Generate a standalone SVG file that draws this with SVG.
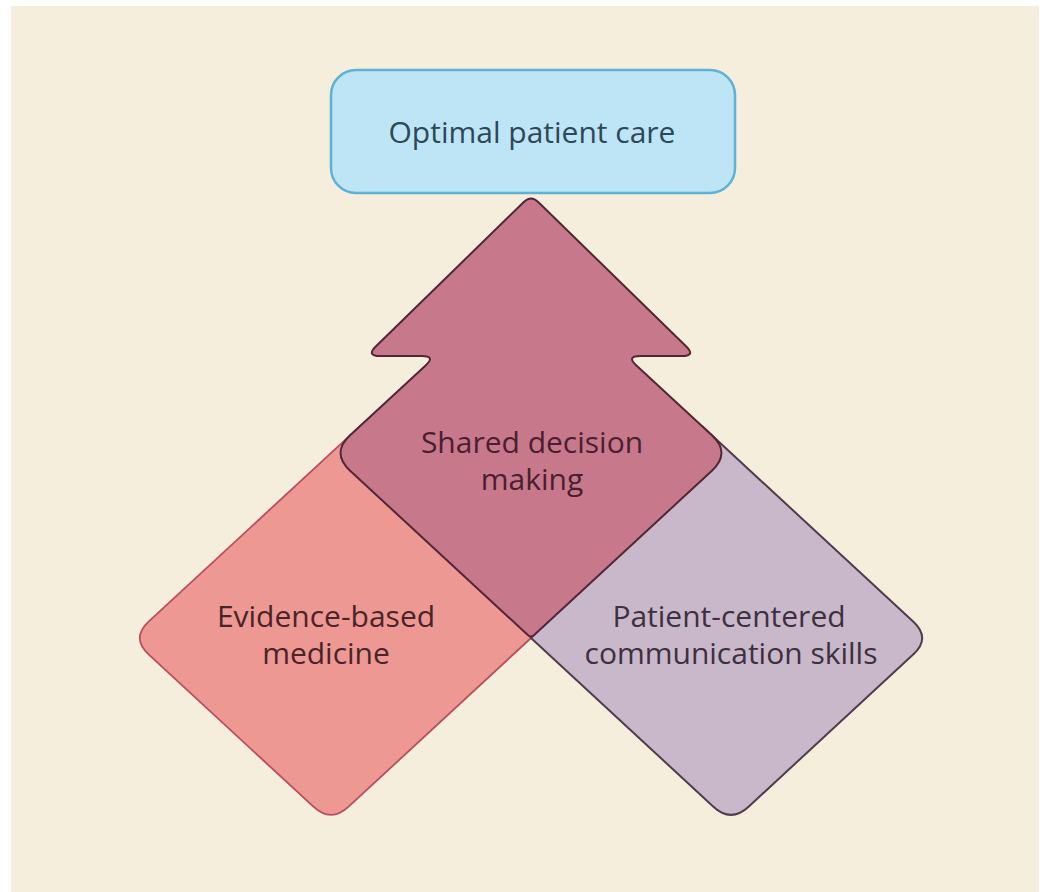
<svg xmlns="http://www.w3.org/2000/svg" width="1046" height="892" viewBox="0 0 1046 892">
  <style>
    .lbl { font-family: "Open Sans", "Noto Sans", "DejaVu Sans", sans-serif; font-size: 30px; text-anchor: middle; }
  </style>
  <rect x="0" y="0" width="1046" height="892" fill="#ffffff"/>
  <rect x="11" y="6" width="1028" height="886" fill="#f5eedc"/>

  <!-- left tile: its hidden top and right corners sit under the arrow -->
  <g id="evidence-based-medicine">
    <path d="M360.4,425.8 L531,638 L348.6,806.7 Q331,823 313.4,806.7 L148.6,654.3 Q131,638 148.6,621.7 Z" fill="#ee9894" stroke="#b94d5c" stroke-width="1.8" stroke-linejoin="round"/>
    <text class="lbl" x="326" y="627" fill="#4a2429">Evidence-based</text>
    <text class="lbl" x="326" y="664" fill="#4a2429">medicine</text>
  </g>

  <!-- right tile -->
  <g id="patient-centered-communication">
    <path d="M531,638 L701.6,425.8 L913.4,621.7 Q931,638 913.4,654.3 L748.6,806.7 Q731,823 713.4,806.7 Z" fill="#c8b8c9" stroke="#4f3b4c" stroke-width="2" stroke-linejoin="round"/>
    <text class="lbl" x="729" y="627" fill="#3d3040">Patient-centered</text>
    <text class="lbl" x="731" y="664" fill="#3d3040">communication skills</text>
  </g>

  <!-- central arrow pointing up to the goal box -->
  <g id="shared-decision-making">
    <path d="M523.8,202 Q531,195 538.2,202 L686,346.2 Q696,356 682,356 L640.1,356 Q626.1,356 636.4,365.5 L711.9,435.3 Q731,453 711.9,470.7 L533.9,635.3 Q531,638 528.1,635.3 L350.1,470.7 Q331,453 350.1,435.3 L425.6,365.5 Q435.9,356 421.9,356 L380,356 Q366,356 376,346.2 Z" fill="#c7788b" stroke="#532636" stroke-width="2" stroke-linejoin="round"/>
    <text class="lbl" x="532" y="453" fill="#4a1f30">Shared decision</text>
    <text class="lbl" x="532" y="490" fill="#4a1f30">making</text>
  </g>

  <g id="optimal-patient-care">
    <rect x="331" y="70" width="404" height="123" rx="25" ry="25" fill="#bde5f6" stroke="#5eb2d7" stroke-width="2.5"/>
    <text class="lbl" x="532" y="143" fill="#2e4858">Optimal patient care</text>
  </g>
</svg>
